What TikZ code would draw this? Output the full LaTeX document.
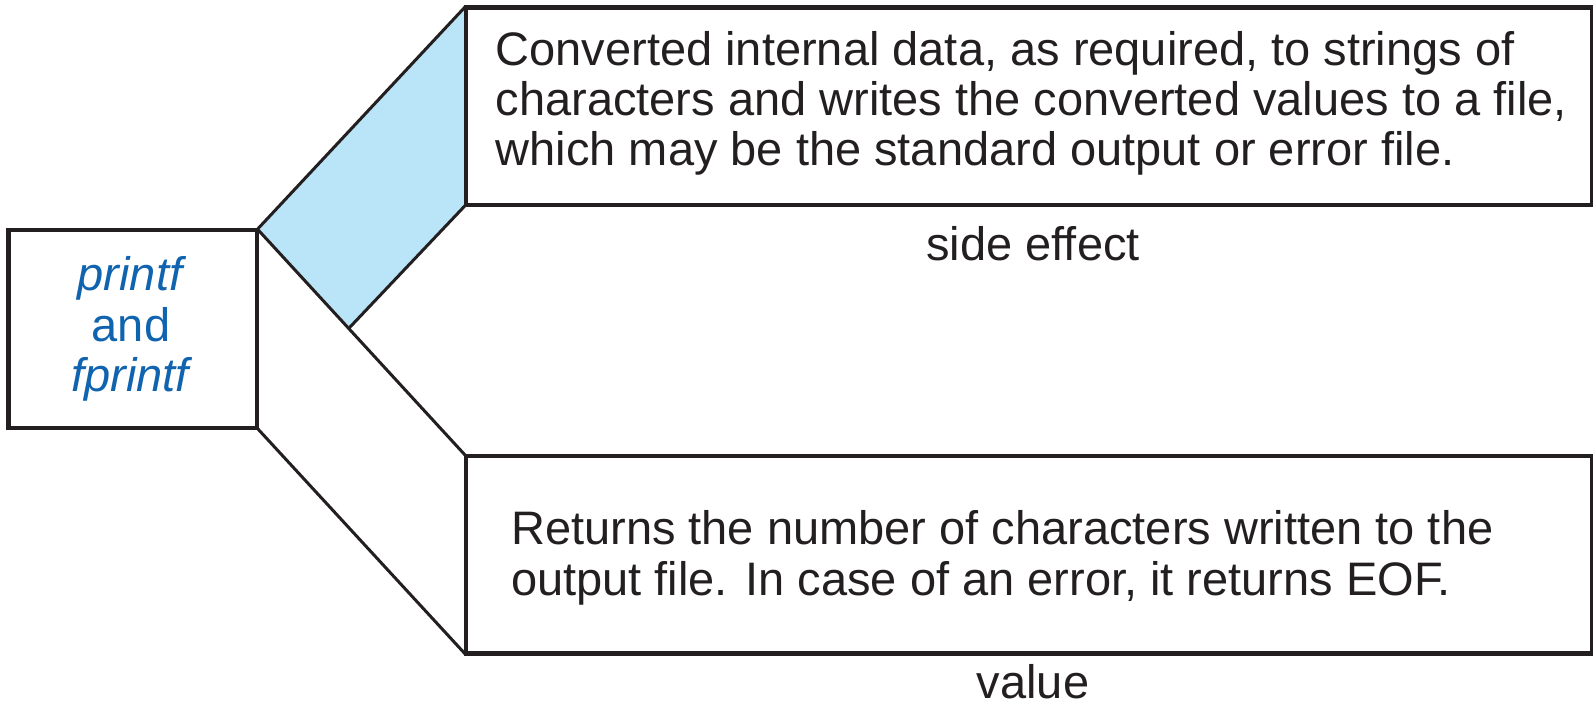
\documentclass[tikz,border=0pt]{standalone}
\usepackage{fontspec}
\setmainfont{Liberation Sans}
\definecolor{inkc}{RGB}{35,31,32}
\definecolor{fnblue}{RGB}{16,100,175}
\definecolor{skyfill}{RGB}{186,228,248}
\tikzset{
  boxshape/.style={draw=inkc, line width=3pt, inner sep=0pt},
  bodyline/.style={text=inkc, inner sep=0pt, anchor=base west, font=\fontsize{47}{52}\selectfont},
  labeltext/.style={text=inkc, inner sep=0pt, anchor=base, font=\fontsize{47}{52}\selectfont},
  fnline/.style={text=fnblue, inner sep=0pt, anchor=base, font=\fontsize{47}{52}\selectfont},
  edge/.style={draw=inkc, line width=3pt, line join=miter}
}
\begin{document}
\begin{tikzpicture}[x=1pt,y=-1pt]
\useasboundingbox (0,0) rectangle (1593,702);
% boxes
\node[boxshape, minimum width=246.7pt, minimum height=196.3pt] (lbox) at (132.65,328.85) {};
\node[boxshape, minimum width=1124.3pt, minimum height=195.7pt] (sbox) at (1028.85,106.15) {};
\node[boxshape, minimum width=1124.3pt, minimum height=195.8pt] (vbox) at (1028.85,554.6) {};
% blue parallelogram
\coordinate (bend) at (348,329.2);
\fill[skyfill] (lbox.north east) -- (sbox.north west) -- (sbox.south west) -- (bend) -- cycle;
\draw[edge] (lbox.north east) -- (sbox.north west);
\draw[edge] (sbox.south west) -- (bend);
\draw[edge] (lbox.north east) -- (vbox.north west);
\draw[edge] (lbox.south east) -- (vbox.south west);
% box borders on top
\draw[draw=inkc, line width=3pt] (lbox.north west) rectangle (lbox.south east);
\draw[draw=inkc, line width=3pt] (sbox.north west) rectangle (sbox.south east);
\draw[draw=inkc, line width=3pt] (vbox.north west) rectangle (vbox.south east);
% function names
\node[fnline] (fn1) at (132,290) {\textit{printf}};
\node[fnline] (fn2) at (131,341) {and};
\node[fnline] (fn3) at (132,391) {\textit{fprintf}};
% side effect text
\node[bodyline] (s1) at (495.5,65) {Converted internal data, as required, to strings of};
\node[bodyline] (s2) at (495.5,115) {characters and writes the converted values to a file,};
\node[bodyline] (s3) at (495.5,165) {which may be the standard output or error file.};
\node[labeltext] (slabel) at (1033,260) {side effect};
% value text
\node[bodyline] (v1) at (511,544.3) {Returns the number of characters written to the};
\node[bodyline] (v2) at (511,595.5) {output file. In case of an error, it returns EOF.};
\node[labeltext, text depth=0pt] (vlabel) at (1033,698) {value};
\end{tikzpicture}
\end{document}
